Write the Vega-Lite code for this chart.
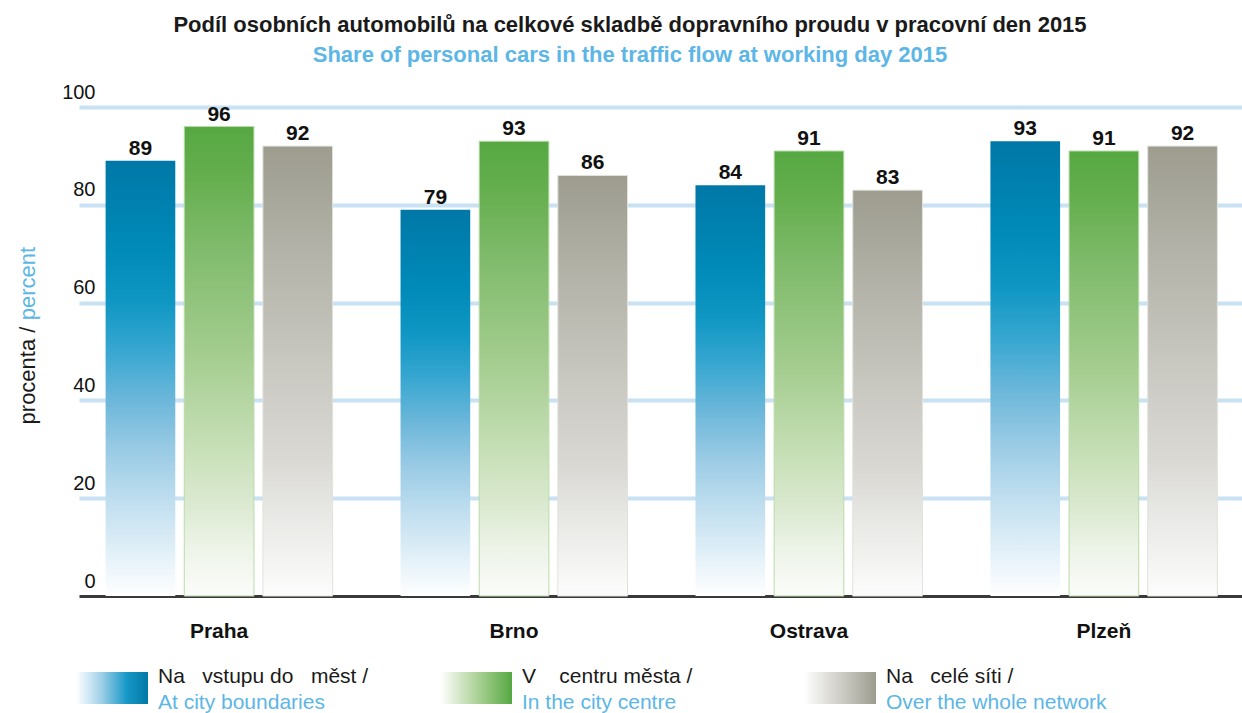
{
  "$schema": "https://vega.github.io/schema/vega-lite/v6.json",
  "background": "white",
  "padding": {"left": 16, "top": 14, "right": 0, "bottom": 0},
  "bounds": "flush",
  "spacing": 76,
  "config": {"view": {"stroke": null}, "font": "Liberation Sans"},
  "title": {
    "text": "Podíl osobních automobilů na celkové skladbě dopravního proudu v pracovní den 2015",
    "subtitle": "Share of personal cars in the traffic flow at working day 2015",
    "font": "Liberation Sans",
    "fontSize": 22,
    "fontWeight": "bold",
    "color": "#1a1a1a",
    "subtitleFont": "Liberation Sans",
    "subtitleFontSize": 22,
    "subtitleFontWeight": "bold",
    "subtitleColor": "#5cb6e6",
    "subtitlePadding": 8,
    "anchor": "middle",
    "offset": 15
  },
  "vconcat": [
    {
      "width": 1165,
      "height": 489,
      "data": {
        "values": [
          {"city": "Praha", "series": "Na vstupu do měst", "value": 89},
          {"city": "Praha", "series": "V centru města", "value": 96},
          {"city": "Praha", "series": "Na celé síti", "value": 92},
          {"city": "Brno", "series": "Na vstupu do měst", "value": 79},
          {"city": "Brno", "series": "V centru města", "value": 93},
          {"city": "Brno", "series": "Na celé síti", "value": 86},
          {"city": "Ostrava", "series": "Na vstupu do měst", "value": 84},
          {"city": "Ostrava", "series": "V centru města", "value": 91},
          {"city": "Ostrava", "series": "Na celé síti", "value": 83},
          {"city": "Plzeň", "series": "Na vstupu do měst", "value": 93},
          {"city": "Plzeň", "series": "V centru města", "value": 91},
          {"city": "Plzeň", "series": "Na celé síti", "value": 92}
        ]
      },
      "encoding": {
        "x": {
          "field": "city",
          "type": "nominal",
          "sort": ["Praha", "Brno", "Ostrava", "Plzeň"],
          "scale": {"paddingInner": 0.2, "paddingOuter": 0.075},
          "axis": {
            "title": null,
            "labelFont": "Liberation Sans",
            "labelFontSize": 21,
            "labelFontWeight": "bold",
            "labelColor": "#111111",
            "labelPadding": 24,
            "labelAngle": 0,
            "ticks": false,
            "domain": false,
            "grid": false
          }
        },
        "xOffset": {
          "field": "series",
          "type": "nominal",
          "sort": ["Na vstupu do měst", "V centru města", "Na celé síti"],
          "scale": {"paddingInner": 0.114, "paddingOuter": 0.057}
        }
      },
      "layer": [
        {
          "transform": [{"filter": "datum.series === 'Na vstupu do měst'"}],
          "mark": {
            "type": "bar",
            "color": {
              "gradient": "linear", "x1": 0, "y1": 1, "x2": 0, "y2": 0,
              "stops": [
                {"offset": 0, "color": "#ffffff"},
                {"offset": 0.1, "color": "#e2f0f8"},
                {"offset": 0.22, "color": "#bfdeef"},
                {"offset": 0.34, "color": "#98cae4"},
                {"offset": 0.45, "color": "#6cb7da"},
                {"offset": 0.57, "color": "#35a6d0"},
                {"offset": 0.68, "color": "#0f96c3"},
                {"offset": 0.8, "color": "#008ab8"},
                {"offset": 1, "color": "#0078a7"}
              ]
            }
          },
          "encoding": {
            "y": {
              "field": "value",
              "type": "quantitative",
              "scale": {"domain": [0, 100]},
              "axis": {
                "title": "procenta /",
                "values": [0, 20, 40, 60, 80, 100],
                "grid": true,
                "gridColor": {"condition": {"test": "datum.value === 0", "value": "#3a3a3a"}, "value": "#c8e1f3"},
                "gridWidth": {"condition": {"test": "datum.value === 0", "value": 3}, "value": 4},
                "domain": false,
                "ticks": false,
                "labelFont": "Liberation Sans",
                "labelFontSize": 20,
                "labelColor": "#111111",
                "labelAlign": "right",
                "labelBaseline": "alphabetic",
                "labelOffset": -9,
                "labelPadding": -16,
                "titleFont": "Liberation Sans",
                "titleFontSize": 22,
                "titleFontWeight": "normal",
                "titleColor": "#1a1a1a",
                "titleAngle": -90,
                "titleX": -52,
                "titleY": 268,
                "titleAlign": "center",
                "titleBaseline": "middle"
              }
            }
          }
        },
        {
          "transform": [{"filter": "datum.series === 'V centru města'"}],
          "mark": {
            "type": "bar",
            "stroke": "#b9dba9",
            "strokeWidth": 1,
            "color": {
              "gradient": "linear", "x1": 0, "y1": 1, "x2": 0, "y2": 0,
              "stops": [
                {"offset": 0, "color": "#fbfcfa"},
                {"offset": 0.1, "color": "#eef4e9"},
                {"offset": 0.2, "color": "#dbe9d0"},
                {"offset": 0.31, "color": "#c8e0b8"},
                {"offset": 0.52, "color": "#a3cc8e"},
                {"offset": 0.74, "color": "#80bb6c"},
                {"offset": 0.9, "color": "#64ae4d"},
                {"offset": 1, "color": "#56a843"}
              ]
            }
          },
          "encoding": {
            "y": {"field": "value", "type": "quantitative", "axis": null}
          }
        },
        {
          "transform": [{"filter": "datum.series === 'Na celé síti'"}],
          "mark": {
            "type": "bar",
            "stroke": "#e2e2dc",
            "strokeWidth": 1,
            "color": {
              "gradient": "linear", "x1": 0, "y1": 1, "x2": 0, "y2": 0,
              "stops": [
                {"offset": 0, "color": "#fdfdfd"},
                {"offset": 0.1, "color": "#f1f1ef"},
                {"offset": 0.2, "color": "#e6e6e3"},
                {"offset": 0.31, "color": "#d9d8d3"},
                {"offset": 0.52, "color": "#c8c7c0"},
                {"offset": 0.75, "color": "#b5b4aa"},
                {"offset": 1, "color": "#9d9c8f"}
              ]
            }
          },
          "encoding": {
            "y": {"field": "value", "type": "quantitative", "axis": null}
          }
        },
        {
          "mark": {
            "type": "text",
            "font": "Liberation Sans",
            "fontSize": 21,
            "fontWeight": "bold",
            "color": "#111111",
            "baseline": "alphabetic",
            "dy": -6
          },
          "encoding": {
            "y": {
              "field": "value",
              "type": "quantitative",
              "axis": {
                "title": "percent",
                "orient": "left",
                "labels": false,
                "ticks": false,
                "domain": false,
                "grid": false,
                "titleFont": "Liberation Sans",
                "titleFontSize": 22,
                "titleFontWeight": "normal",
                "titleColor": "#5cb6e6",
                "titleAngle": -90,
                "titleX": -52,
                "titleY": 176,
                "titleAlign": "center",
                "titleBaseline": "middle"
              }
            },
            "text": {"field": "value", "type": "quantitative"}
          }
        }
      ],
      "resolve": {"axis": {"y": "independent"}}
    },
    {
      "width": 728,
      "height": 32,
      "data": {
        "values": [
          {"series": "Na vstupu do měst", "cz": "Na\u00a0\u00a0\u00a0vstupu do\u00a0\u00a0\u00a0měst /", "en": "At city boundaries"},
          {"series": "V centru města", "cz": "V\u00a0\u00a0\u00a0\u00a0centru města /", "en": "In the city centre"},
          {"series": "Na celé síti", "cz": "Na\u00a0\u00a0\u00a0celé síti /", "en": "Over the whole network"}
        ]
      },
      "encoding": {
        "x": {
          "field": "series",
          "type": "nominal",
          "sort": ["Na vstupu do měst", "V centru města", "Na celé síti"],
          "scale": {"type": "point", "padding": 0},
          "axis": null
        }
      },
      "layer": [
        {
          "transform": [{"filter": "datum.series === 'Na vstupu do měst'"}],
          "mark": {
            "type": "bar", "width": 72, "xOffset": 33,
            "color": {
              "gradient": "linear", "x1": 0, "y1": 0, "x2": 1, "y2": 0,
              "stops": [
                {"offset": 0, "color": "#ffffff"},
                {"offset": 0.35, "color": "#a0d0e8"},
                {"offset": 0.7, "color": "#1898c8"},
                {"offset": 1, "color": "#0079a5"}
              ]
            }
          }
        },
        {
          "transform": [{"filter": "datum.series === 'V centru města'"}],
          "mark": {
            "type": "bar", "width": 72, "xOffset": 33,
            "color": {
              "gradient": "linear", "x1": 0, "y1": 0, "x2": 1, "y2": 0,
              "stops": [
                {"offset": 0, "color": "#ffffff"},
                {"offset": 0.35, "color": "#c8e0b8"},
                {"offset": 0.7, "color": "#8cc276"},
                {"offset": 1, "color": "#56a843"}
              ]
            }
          }
        },
        {
          "transform": [{"filter": "datum.series === 'Na celé síti'"}],
          "mark": {
            "type": "bar", "width": 72, "xOffset": 33,
            "color": {
              "gradient": "linear", "x1": 0, "y1": 0, "x2": 1, "y2": 0,
              "stops": [
                {"offset": 0, "color": "#ffffff"},
                {"offset": 0.35, "color": "#dddcd7"},
                {"offset": 0.7, "color": "#bcbbb2"},
                {"offset": 1, "color": "#9d9c8f"}
              ]
            }
          }
        },
        {
          "mark": {"type": "text", "align": "left", "baseline": "alphabetic", "dx": 79, "dy": -5, "font": "Liberation Sans", "fontSize": 21, "color": "#1a1a1a"},
          "encoding": {"text": {"field": "cz"}}
        },
        {
          "mark": {"type": "text", "align": "left", "baseline": "alphabetic", "dx": 79, "dy": 21, "font": "Liberation Sans", "fontSize": 21, "color": "#5cb6e6"},
          "encoding": {"text": {"field": "en"}}
        }
      ]
    }
  ]
}
